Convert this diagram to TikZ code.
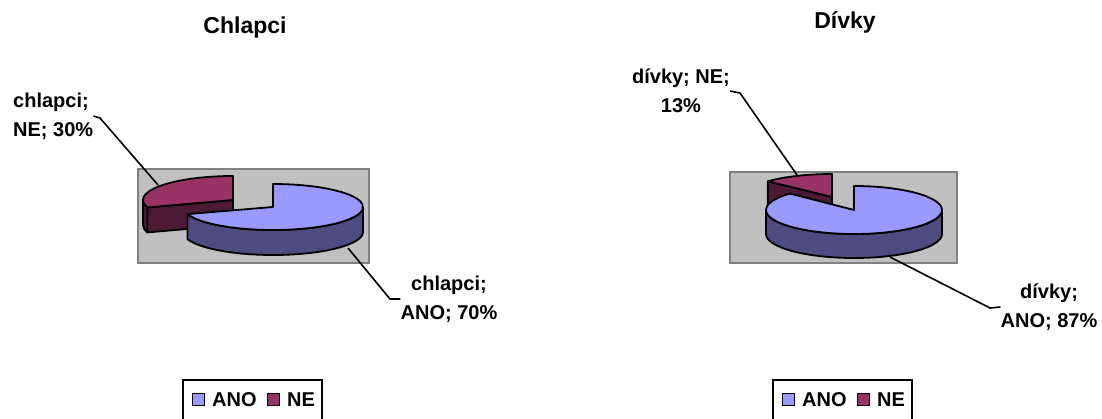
\documentclass[tikz,border=0pt]{standalone}
\usepackage{fontspec}
\setmainfont{Liberation Sans}
\usetikzlibrary{calc}
\definecolor{anotop}{HTML}{9999FF}
\definecolor{anoside}{HTML}{4C4C80}
\definecolor{netop}{HTML}{993366}
\definecolor{neside}{HTML}{4D1A33}
\definecolor{plotgray}{HTML}{C0C0C0}
\definecolor{plotedge}{HTML}{808080}
\tikzset{
  plotarea/.style={fill=plotgray, draw=plotedge, line width=1.8pt},
  slice/.style={draw=black, line width=1.8pt, line join=round},
  leader/.style={draw=black, line width=1.6pt},
  lbl/.style={font=\bfseries\fontsize{20}{29}\selectfont, inner sep=0pt, align=center},
  ttl/.style={font=\bfseries\fontsize{23}{28}\selectfont, inner sep=0pt},
  legbox/.style={draw=black, line width=1.5pt, fill=white},
  legkey/.style={draw=black, line width=1.5pt, minimum size=12pt, inner sep=0pt},
  legtext/.style={font=\bfseries\fontsize{20}{24}\selectfont, inner sep=0pt, anchor=west}
}
\begin{document}
\begin{tikzpicture}[x=1pt,y=1pt]
\useasboundingbox (0,0) rectangle (1102,-418);

% ---------------- Chlapci ----------------
\node[ttl] (t1) at (245,-28) {Chlapci};
\draw[plotarea] (138,-169) rectangle (369,-263);

% NE slice (pulled out), 90..198 deg
\coordinate (cn1) at (233,-200);
\draw[slice, fill=neside] ($(cn1)+(180:90 and 24)$)
  arc[start angle=180, end angle=198, x radius=90, y radius=24]
  -- ++(0,-25)
  arc[start angle=198, end angle=180, x radius=90, y radius=24] -- cycle;
\draw[slice, fill=neside] (cn1) -- ($(cn1)+(198:90 and 24)$) -- ++(0,-25)
  -- ($(cn1)+(0,-25)$) -- cycle;
\draw[slice, fill=netop] (cn1) -- ++(0,24)
  arc[start angle=90, end angle=198, x radius=90, y radius=24] -- cycle;

% ANO slice, 198..450 deg
\coordinate (ca1) at (273,-207);
\draw[slice, fill=anoside] ($(ca1)+(198:90 and 23)$)
  arc[start angle=198, end angle=360, x radius=90, y radius=23]
  -- ++(0,-25)
  arc[start angle=360, end angle=198, x radius=90, y radius=23] -- cycle;
\draw[slice, fill=anotop] (ca1) -- ($(ca1)+(198:90 and 23)$)
  arc[start angle=198, end angle=450, x radius=90, y radius=23] -- cycle;

% labels and leaders
\node[lbl, align=left, anchor=west] (lne1) at (13,-116) {chlapci;\\NE; 30\%};
\coordinate (kne1) at (100,-118);
\coordinate (pne1) at (158,-185);
\draw[leader] (lne1.east) -- (kne1) -- (pne1);

\node[lbl] (lano1) at (449,-299) {chlapci;\\ANO; 70\%};
\coordinate (pano1) at (348,-248);
\coordinate (kano1) at (390,-299);
\draw[leader] (pano1) -- (kano1) -- (lano1.west);

% legend
\draw[legbox] (183,-380) rectangle (322,-432);
\node[legkey, fill=anotop] (ka1) at (198.5,-399.5) {};
\node[legtext] (la1) at (212,-399.5) {ANO};
\node[legkey, fill=netop] (kn1) at (273.5,-399.5) {};
\node[legtext] (ln1) at (287,-399.5) {NE};

% ---------------- Dívky ----------------
\node[ttl] (t2) at (845,-22) {Dívky};
\draw[plotarea] (730,-172) rectangle (957,-263);

% NE slice (pulled out), 90..136.8 deg
\coordinate (cn2) at (832,-197);
\draw[slice, fill=neside] (cn2) -- ($(cn2)+(136.8:88 and 23)$) -- ++(0,-24)
  -- ($(cn2)+(0,-24)$) -- cycle;
\draw[slice, fill=netop] (cn2) -- ++(0,23)
  arc[start angle=90, end angle=136.8, x radius=88, y radius=23] -- cycle;

% ANO slice, 136.8..450 deg
\coordinate (ca2) at (854,-210);
\draw[slice, fill=anoside] ($(ca2)+(180:88 and 24)$)
  arc[start angle=180, end angle=360, x radius=88, y radius=24]
  -- ++(0,-24)
  arc[start angle=360, end angle=180, x radius=88, y radius=24] -- cycle;
\draw[slice, fill=anotop] (ca2) -- ($(ca2)+(136.8:88 and 24)$)
  arc[start angle=136.8, end angle=450, x radius=88, y radius=24] -- cycle;

% labels and leaders
\node[lbl] (lne2) at (681,-91) {dívky; NE;\\13\%};
\coordinate (kne2) at (740,-93);
\coordinate (pne2) at (797,-175);
\draw[leader] (lne2.east) -- (kne2) -- (pne2);

\node[lbl] (lano2) at (1049,-307) {dívky;\\ANO; 87\%};
\coordinate (pano2) at (890,-257);
\coordinate (kano2) at (990,-308);
\draw[leader] (pano2) -- (kano2) -- (lano2.west);

% legend
\draw[legbox] (773,-380) rectangle (912,-432);
\node[legkey, fill=anotop] (ka2) at (788.5,-399.5) {};
\node[legtext] (la2) at (802,-399.5) {ANO};
\node[legkey, fill=netop] (kn2) at (863.5,-399.5) {};
\node[legtext] (ln2) at (877,-399.5) {NE};
\end{tikzpicture}
\end{document}
